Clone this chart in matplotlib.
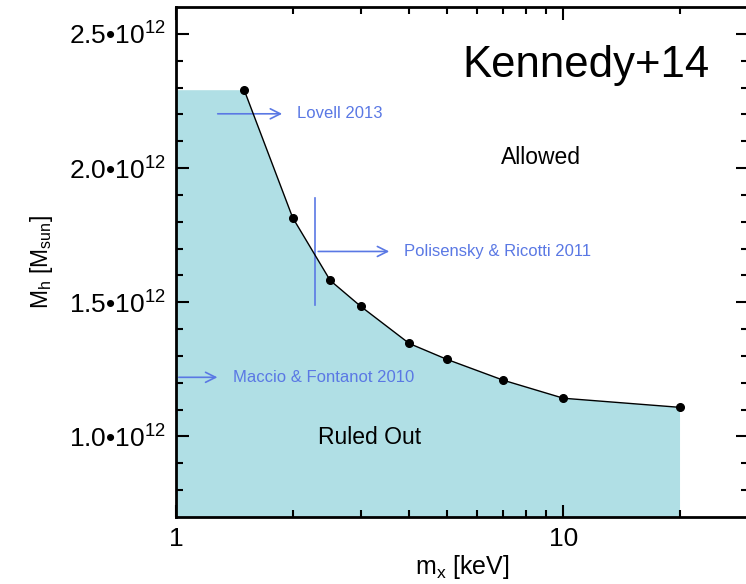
import matplotlib
matplotlib.use("Agg")
import matplotlib.pyplot as plt
from matplotlib.ticker import FixedLocator, FixedFormatter, NullFormatter

plt.rcParams['font.family'] = ['Liberation Sans', 'DejaVu Sans']
plt.rcParams['mathtext.fontset'] = 'custom'
plt.rcParams['mathtext.rm'] = 'Liberation Sans'
plt.rcParams['mathtext.it'] = 'Liberation Sans:italic'

# halo mass limit vs. particle mass
mx = [1.5, 2.0, 2.5, 3.0, 4.0, 5.0, 7.0, 10.0, 20.0]
mh = [2.29e12, 1.815e12, 1.581e12, 1.484e12, 1.346e12, 1.287e12, 1.209e12, 1.142e12, 1.108e12]

ytick_vals = [1.0e12, 1.5e12, 2.0e12, 2.5e12]
ytick_text = ['1.0•10$^{12}$', '1.5•10$^{12}$', '2.0•10$^{12}$', '2.5•10$^{12}$']
xtick_vals = [1, 10]
xtick_text = ['1', '10']

blue = '#5a78e4'
fill_col = '#b0dfe5'

fig = plt.figure(figsize=(7.46, 5.84), dpi=100)
ax = fig.add_axes([0.236, 0.115, 0.767, 0.873])

# shaded excluded region: flat up to the first point, then under the curve
fx = [1.0] + mx
fy = [mh[0]] + mh
ax.fill_between(fx, 0, fy, color=fill_col, lw=0)
ax.plot(mx, mh, color='k', lw=1.0, marker='o', ms=5.5, zorder=5)

ax.set_xscale('log')
ax.set_xlim(1, 30)
ax.set_ylim(0.7e12, 2.6e12)

ax.xaxis.set_major_locator(FixedLocator(xtick_vals))
ax.xaxis.set_major_formatter(FixedFormatter(xtick_text))
ax.xaxis.set_minor_locator(FixedLocator([2, 3, 4, 5, 6, 7, 8, 9, 20, 30]))
ax.xaxis.set_minor_formatter(NullFormatter())
ax.yaxis.set_major_locator(FixedLocator(ytick_vals))
ax.yaxis.set_major_formatter(FixedFormatter(ytick_text))
ax.yaxis.set_minor_locator(FixedLocator([v * 1e12 for v in
                                         [0.8, 0.9, 1.1, 1.2, 1.3, 1.4, 1.6, 1.7, 1.8, 1.9,
                                          2.1, 2.2, 2.3, 2.4]]))

ax.tick_params(which='both', direction='in', top=True, right=True, width=1.5)
ax.tick_params(which='major', length=9, labelsize=19, pad=7)
ax.tick_params(which='minor', length=5)
for s in ax.spines.values():
    s.set_linewidth(2)

ax.set_xlabel('m$_\\mathrm{x}$ [keV]', fontsize=18, labelpad=2)
ax.set_ylabel('M$_\\mathrm{h}$ [M$_\\mathrm{sun}$]', fontsize=16.5, labelpad=10)

# literature limits
arr = dict(arrowstyle='->', color=blue, lw=1.2, mutation_scale=18)
ax.annotate('', xy=(1.91, 2.202e12), xytext=(1.26, 2.202e12), arrowprops=arr)
ax.text(2.05, 2.202e12, 'Lovell 2013', color=blue, fontsize=12, va='center')

ax.plot([2.29, 2.29], [1.49e12, 1.89e12], color=blue, lw=1.2)
ax.annotate('', xy=(3.61, 1.689e12), xytext=(2.29, 1.689e12), arrowprops=arr)
ax.text(3.88, 1.689e12, 'Polisensky & Ricotti 2011', color=blue, fontsize=12, va='center')

ax.annotate('', xy=(1.30, 1.22e12), xytext=(1.0, 1.22e12), arrowprops=arr)
ax.text(1.40, 1.22e12, 'Maccio & Fontanot 2010', color=blue, fontsize=12, va='center')

ax.text(8.75, 2.04e12, 'Allowed', fontsize=16.5, ha='center', va='center')
ax.text(3.15, 0.996e12, 'Ruled Out', fontsize=16.5, ha='center', va='center')
ax.text(0.716, 0.863, 'Kennedy+14', transform=ax.transAxes, fontsize=31.5,
        ha='center', va='baseline')

fig.savefig('out.png', dpi=100)
